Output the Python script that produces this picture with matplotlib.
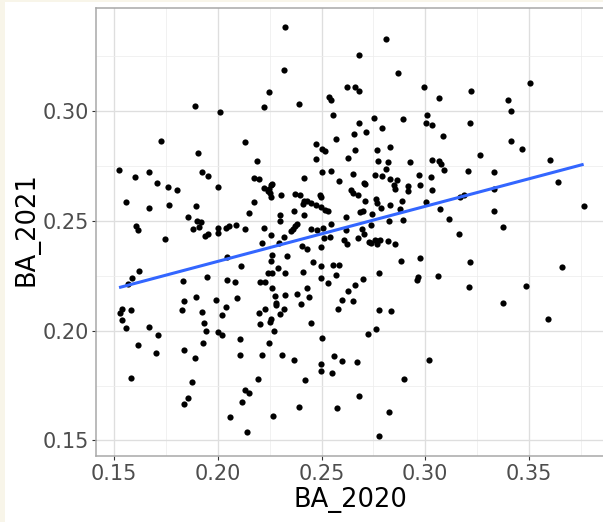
import numpy as np
import matplotlib
matplotlib.use("Agg")
import matplotlib.pyplot as plt
from matplotlib.patches import Rectangle
from matplotlib.ticker import MultipleLocator, FormatStrFormatter

# values
ba_2020 = [
    0.1891, 0.2012, 0.2221, 0.1727, 0.1904, 0.2133,
    0.2325, 0.2320, 0.2246, 0.2392, 0.2811, 0.2680, 0.2870, 0.2622, 0.2664, 0.2682,
    0.2535, 0.2548, 0.2997, 0.2556, 0.2753, 0.2893, 0.3007, 0.3002, 0.3035, 0.2679,
    0.2793, 0.2655, 0.2713, 0.2572, 0.2473, 0.2500, 0.2518, 0.2664, 0.2766, 0.2832,
    0.3508, 0.3223, 0.3066, 0.3398, 0.3413, 0.3215, 0.3086, 0.3416, 0.3469, 0.3264,
    0.1523, 0.2188, 0.1666, 0.1600, 0.1923, 0.1952, 0.1704, 0.1758, 0.1803, 0.2000,
    0.2176, 0.2199, 0.2224, 0.1556, 0.1666, 0.1764, 0.1894, 0.2173, 0.2150, 0.1856,
    0.1898, 0.1920, 0.1882, 0.1909, 0.1940, 0.1954, 0.1606, 0.1613, 0.2000, 0.2000,
    0.2041, 0.2052, 0.2086, 0.2131, 0.2221, 0.1746, 0.2212, 0.2044, 0.2110, 0.1621,
    0.1587, 0.1566, 0.1946, 0.1833, 0.2043, 0.2083, 0.2202, 0.2228, 0.1835, 0.1896,
    0.1989, 0.2094, 0.2041,
    0.2471, 0.2629, 0.2775, 0.2822, 0.2927, 0.3035, 0.2809, 0.2500, 0.2547, 0.2650,
    0.2416, 0.2584, 0.2758, 0.2793, 0.2830, 0.2865, 0.2970, 0.3030, 0.2703, 0.2709,
    0.2848, 0.2854, 0.2919, 0.2919, 0.2977, 0.3035,
    0.2258, 0.2261, 0.2248, 0.2242, 0.2250, 0.2254, 0.2305, 0.2374, 0.2397, 0.2494,
    0.2498, 0.2642, 0.2653, 0.2674, 0.2416, 0.2428, 0.2448, 0.2471, 0.2409, 0.2497,
    0.2519, 0.2529, 0.2709, 0.2764, 0.2770, 0.2785, 0.2832, 0.2890, 0.2877, 0.2688,
    0.2701, 0.2745, 0.3002, 0.2366, 0.2302, 0.2416, 0.2618, 0.2825, 0.2891, 0.2298,
    0.2382, 0.2371, 0.2352, 0.2360, 0.2255, 0.2448, 0.2479, 0.2508, 0.2548, 0.2618,
    0.2693, 0.2741, 0.2703, 0.2677, 0.2510, 0.2540, 0.2609, 0.2622, 0.2729, 0.2739,
    0.2758, 0.2770, 0.2780, 0.2770, 0.2822, 0.2854, 0.2320, 0.2296, 0.2407, 0.2431,
    0.2497, 0.2261, 0.2334, 0.2258, 0.2460, 0.2498, 0.2556, 0.2584, 0.2883, 0.2977,
    0.2291, 0.2242, 0.2261, 0.2323, 0.2411, 0.2572, 0.2777, 0.2498, 0.2532, 0.2701,
    0.2661, 0.2966, 0.2963, 0.2261, 0.2428, 0.2626, 0.2277, 0.2326, 0.2382, 0.2439,
    0.2598, 0.2651, 0.2280, 0.2280, 0.2403,
    0.3065, 0.3076, 0.3089, 0.3207, 0.3334, 0.3601, 0.3641, 0.3334, 0.3170, 0.3189,
    0.3070, 0.3115, 0.3334, 0.3765, 0.3376, 0.3165, 0.3218, 0.3659, 0.3062, 0.3213,
    0.3488, 0.3377,
    0.1527, 0.1539, 0.1579, 0.1537, 0.1556, 0.1828, 0.1923, 0.1931, 0.1941, 0.1928,
    0.1666, 0.1709, 0.1613, 0.1703, 0.1835, 0.1891, 0.1579, 0.1875, 0.1857, 0.1836,
    0.2020, 0.2000, 0.2020, 0.2105, 0.2105, 0.2212, 0.2199, 0.2202, 0.2194, 0.2130,
    0.2149, 0.2118, 0.2056, 0.2142,
    0.2226, 0.2320, 0.2300, 0.2255, 0.2250, 0.2271, 0.2246, 0.2450, 0.2581, 0.2779,
    0.2833, 0.2500, 0.2725, 0.2764, 0.2307, 0.2366, 0.2498, 0.2498, 0.2553, 0.2561,
    0.2597, 0.2671, 0.3020, 0.2420, 0.2896, 0.2679, 0.2392, 0.2577, 0.2268, 0.2824,
    0.2777,
    0.3591,
]
ba_2021 = [
    0.3024, 0.2998, 0.3021, 0.2863, 0.2810, 0.2860,
    0.3382, 0.3188, 0.3088, 0.3033, 0.3331, 0.3255, 0.3176, 0.3112, 0.3109, 0.3094,
    0.3065, 0.3050, 0.3112, 0.2982, 0.2970, 0.2964, 0.2985, 0.2948, 0.2936, 0.2945,
    0.2924, 0.2898, 0.2906, 0.2874, 0.2851, 0.2830, 0.2819, 0.2825, 0.2825, 0.2837,
    0.3128, 0.3093, 0.3061, 0.3050, 0.3000, 0.2945, 0.2888, 0.2866, 0.2827, 0.2802,
    0.2734, 0.2775, 0.2723, 0.2701, 0.2725, 0.2705, 0.2673, 0.2657, 0.2641, 0.2654,
    0.2696, 0.2693, 0.2650, 0.2588, 0.2558, 0.2571, 0.2567, 0.2585, 0.2536, 0.2520,
    0.2500, 0.2494, 0.2464, 0.2471, 0.2432, 0.2439, 0.2476, 0.2459, 0.2470, 0.2444,
    0.2468, 0.2477, 0.2482, 0.2462, 0.2470, 0.2416, 0.2400, 0.2334, 0.2293, 0.2274,
    0.2239, 0.2213, 0.2245, 0.2226, 0.2231, 0.2220, 0.2220, 0.2220, 0.2137, 0.2152,
    0.2140, 0.2149, 0.2108,
    0.2784, 0.2787, 0.2774, 0.2768, 0.2771, 0.2780, 0.2737, 0.2722, 0.2728, 0.2716,
    0.2698, 0.2684, 0.2708, 0.2706, 0.2693, 0.2688, 0.2708, 0.2701, 0.2673, 0.2668,
    0.2666, 0.2647, 0.2661, 0.2638, 0.2666, 0.2643,
    0.2663, 0.2669, 0.2647, 0.2638, 0.2629, 0.2608, 0.2617, 0.2623, 0.2620, 0.2617,
    0.2608, 0.2640, 0.2629, 0.2620, 0.2590, 0.2593, 0.2582, 0.2574, 0.2579, 0.2562,
    0.2552, 0.2544, 0.2590, 0.2602, 0.2582, 0.2559, 0.2574, 0.2590, 0.2555, 0.2541,
    0.2544, 0.2533, 0.2587, 0.2544, 0.2526, 0.2529, 0.2520, 0.2498, 0.2506, 0.2498,
    0.2488, 0.2476, 0.2456, 0.2465, 0.2438, 0.2465, 0.2457, 0.2468, 0.2488, 0.2460,
    0.2465, 0.2480, 0.2441, 0.2421, 0.2421, 0.2425, 0.2413, 0.2395, 0.2404, 0.2400,
    0.2415, 0.2410, 0.2415, 0.2395, 0.2407, 0.2395, 0.2427, 0.2400, 0.2386, 0.2372,
    0.2383, 0.2346, 0.2339, 0.2316, 0.2312, 0.2295, 0.2299, 0.2299, 0.2319, 0.2331,
    0.2286, 0.2261, 0.2261, 0.2263, 0.2267, 0.2252, 0.2264, 0.2240, 0.2217, 0.2237,
    0.2210, 0.2243, 0.2232, 0.2194, 0.2194, 0.2179, 0.2160, 0.2164, 0.2167, 0.2152,
    0.2141, 0.2134, 0.2125, 0.2115, 0.2123,
    0.2775, 0.2760, 0.2734, 0.2727, 0.2723, 0.2780, 0.2678, 0.2647, 0.2611, 0.2617,
    0.2556, 0.2511, 0.2544, 0.2567, 0.2471, 0.2441, 0.2313, 0.2290, 0.2249, 0.2199,
    0.2202, 0.2126,
    0.2082, 0.2099, 0.2096, 0.2047, 0.2011, 0.2096, 0.2085, 0.2035, 0.1998, 0.1942,
    0.2018, 0.1982, 0.1936, 0.1897, 0.1910, 0.1875, 0.1784, 0.1767, 0.1691, 0.1667,
    0.2073, 0.1994, 0.1980, 0.1962, 0.1889, 0.1889, 0.2082, 0.2032, 0.1781, 0.1732,
    0.1716, 0.1676, 0.1605, 0.1539,
    0.2097, 0.2097, 0.2076, 0.2053, 0.2040, 0.2000, 0.1945, 0.2036, 0.2100, 0.2093,
    0.2090, 0.1965, 0.1985, 0.2008, 0.1889, 0.1865, 0.1846, 0.1815, 0.1807, 0.1886,
    0.1860, 0.1857, 0.1868, 0.1777, 0.1780, 0.1701, 0.1652, 0.1649, 0.1609, 0.1629,
    0.1520,
    0.2055,
]

x = np.array(ba_2020)
y = np.array(ba_2021)

# the reference is a little stretched sideways, DejaVu's wider glyphs match that
plt.rcParams['font.family'] = ['DejaVu Sans']

W, H = 603, 522
fig = plt.figure(figsize=(W / 100, H / 100), dpi=100, facecolor='#F8F5E9')
# white plotting area (reference has a thin cream margin top/left)
fig.patches.append(Rectangle((5 / W, 0), 1, 1 - 2 / H, transform=fig.transFigure,
                             facecolor='white', edgecolor='none', zorder=-10))

left, right, top, bottom = 96, 605, 8.3, 456
ax = fig.add_axes([left / W, (H - bottom) / H, (right - left) / W, (bottom - top) / H])
ax.set_facecolor('white')

ax.set_xlim(0.14117, 0.38681)
ax.set_ylim(0.14289, 0.34695)

ax.xaxis.set_major_locator(MultipleLocator(0.05))
ax.xaxis.set_minor_locator(MultipleLocator(0.025))
ax.yaxis.set_major_locator(MultipleLocator(0.05))
ax.yaxis.set_minor_locator(MultipleLocator(0.025))
ax.xaxis.set_major_formatter(FormatStrFormatter('%.2f'))
ax.yaxis.set_major_formatter(FormatStrFormatter('%.2f'))

ax.grid(which='major', color='#DEDEDE', linewidth=0.95, zorder=0)
ax.grid(which='minor', color='#EDEDED', linewidth=0.55, zorder=0)
ax.set_axisbelow(True)

for s in ax.spines.values():
    s.set_color('#A8A8A8')
    s.set_linewidth(1.1)

ax.tick_params(which='major', length=3.1, width=0.8, color='#333333',
               labelsize=15, labelcolor='#4D4D4D')
ax.tick_params(axis='x', which='major', pad=3.0)
ax.tick_params(axis='y', which='major', pad=2.2)
ax.tick_params(which='minor', length=0)

ax.scatter(x, y, s=20, color='black', linewidths=0, zorder=3)

# linear fit like geom_smooth(method = "lm", se = FALSE)
b, a = np.polyfit(x, y, 1)
xs = np.array([x.min(), x.max()])
ax.plot(xs, a + b * xs, color='#3366FF', linewidth=2.2, zorder=4, solid_capstyle='butt')

ax.set_xlabel('BA_2020', fontsize=18.5, color='black')
ax.set_ylabel('BA_2021', fontsize=18.5, color='black')
ax.xaxis.set_label_coords(0.5, -0.0692)
ax.yaxis.set_label_coords(-0.1112, 0.506)

fig.savefig('out.png', dpi=100, facecolor=fig.get_facecolor())
